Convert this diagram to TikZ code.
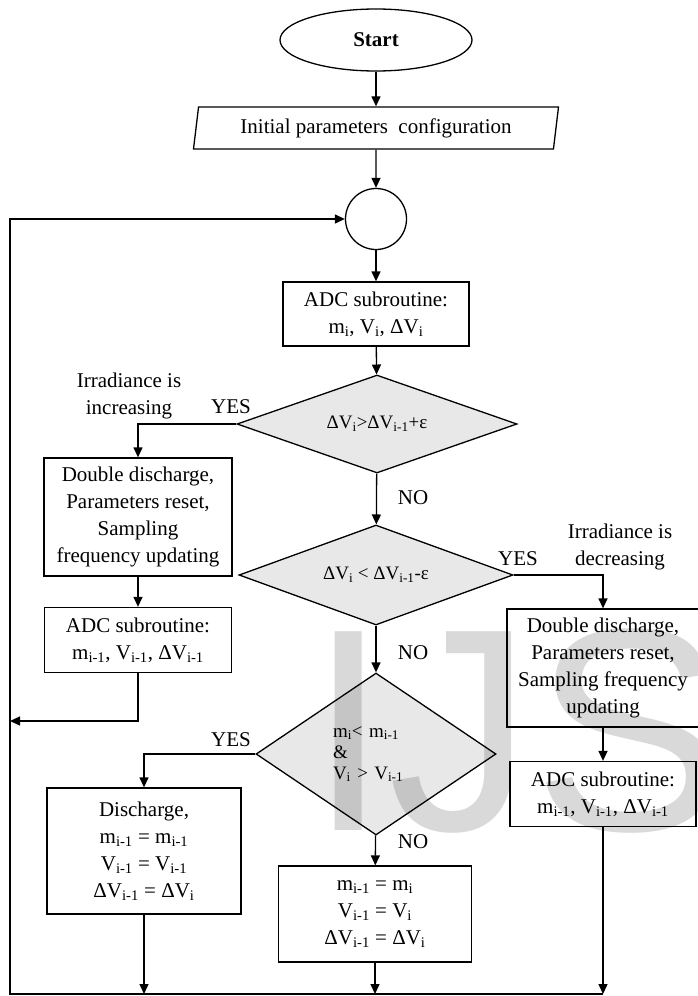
\documentclass[tikz,border=0pt]{standalone}
\usepackage{fontspec}
\setmainfont{Liberation Serif}
\newfontfamily\markfont{Liberation Sans}
\usetikzlibrary{arrows.meta,shapes.geometric}

\begin{document}
\begin{tikzpicture}[
    x=1pt,
    y=-1pt,
    font=\fontsize{21}{27}\selectfont,
    line width=1.3pt,
    terminal/.style={
        ellipse,
        draw,
        minimum width=192,
        minimum height=62,
        font=\fontsize{21}{27}\selectfont\bfseries
    },
    iobox/.style={
        trapezium,
        trapezium left angle=79,
        trapezium right angle=101,
        trapezium stretches body,
        draw,
        minimum width=365,
        minimum height=42
    },
    joint/.style={circle, draw, minimum size=61, inner sep=0pt},
    procbox/.style={
        rectangle,
        draw,
        align=center,
        inner sep=2pt
    },
    decision/.style={
        diamond,
        draw,
        fill=black!9,
        inner sep=0pt,
        font=\fontsize{19}{21}\selectfont
    },
    tag/.style={align=center, inner sep=0pt},
    flowarrow/.style={-{Triangle[length=10pt,width=9pt]}, line width=1.3pt}
]

\useasboundingbox (0,0) rectangle (697,996);

\node[terminal] (start) at (376,40) {Start};
\node[iobox] (init) at (376,128) {Initial parameters\ \ configuration};
\node[joint] (join) at (376,219) {};
\node[procbox, minimum width=186, minimum height=64] (adc0) at (376,314)
    {ADC subroutine:\\m\textsubscript{i}, V\textsubscript{i}, ΔV\textsubscript{i}};

\node[decision, minimum width=280, minimum height=98, aspect=2.86] (d1) at (377,424)
    {ΔV\textsubscript{i}>ΔV\textsubscript{i-1}+ε};
\node[decision, minimum width=274, minimum height=100, aspect=2.74] (d2) at (376,575)
    {ΔV\textsubscript{i} < ΔV\textsubscript{i-1}-ε};
\node[decision, minimum width=240, minimum height=162, aspect=1.48, align=left, text width=86] (d3) at (376,754)
    {m\textsubscript{i}< m\textsubscript{i-1}\\\&\\V\textsubscript{i} > V\textsubscript{i-1}};

\node[procbox, minimum width=188, minimum height=118] (inc1) at (138,517)
    {Double discharge,\\Parameters reset,\\Sampling\\frequency updating};
\node[procbox, minimum width=187, minimum height=65] (adc1) at (138,640)
    {ADC subroutine:\\m\textsubscript{i-1}, V\textsubscript{i-1}, ΔV\textsubscript{i-1}};

\node[procbox, minimum width=192, minimum height=118] (dec1) at (603,668)
    {Double discharge,\\Parameters reset,\\Sampling frequency\\updating};
\node[procbox, minimum width=186, minimum height=65] (adc2) at (603,794)
    {ADC subroutine:\\m\textsubscript{i-1}, V\textsubscript{i-1}, ΔV\textsubscript{i-1}};

\node[procbox, minimum width=194, minimum height=126] (dis) at (144,851)
    {Discharge,\\m\textsubscript{i-1} = m\textsubscript{i-1}\\V\textsubscript{i-1} = V\textsubscript{i-1}\\ΔV\textsubscript{i-1} = ΔV\textsubscript{i}};
\node[procbox, minimum width=193, minimum height=96] (upd) at (375,914)
    {m\textsubscript{i-1} = m\textsubscript{i}\\V\textsubscript{i-1} = V\textsubscript{i}\\ΔV\textsubscript{i-1} = ΔV\textsubscript{i}};

% branch labels
\node[tag] (irr1) at (129,396) {Irradiance is\\increasing};
\node[tag] (yes1) at (231,407) {YES};
\node[tag] (no1) at (413,498) {NO};
\node[tag] (yes2) at (518,559) {YES};
\node[tag] (irr2) at (620,547) {Irradiance is\\decreasing};
\node[tag] (no2) at (413,653) {NO};
\node[tag] (yes3) at (231,740) {YES};
\node[tag] (no3) at (413,842) {NO};

\coordinate (ret) at (10,721);
\coordinate (bl) at (10,994);
\coordinate (br) at (603,994);

\foreach \a/\b in {start/init,init/join,join/adc0,adc0/d1,d1/d2,d2/d3,d3/upd,inc1/adc1,dec1/adc2}
    \draw[flowarrow] (\a) -- (\b);

\draw[flowarrow] (d1.west) -| (inc1.north);
\draw[flowarrow] (d2.east) -| (dec1.north);
\draw[flowarrow] (d3.west) -| (dis.north);
\draw[flowarrow] (adc1.south) |- (ret);

\foreach \a in {dis,upd,adc2}
    \draw[flowarrow] (\a.south) -- (\a.south |- bl);
\draw[flowarrow] (br) -- (bl) -- (bl |- join) -- (join);

% watermark
\node[font=\markfont\fontsize{289}{289}\selectfont, opacity=0.15, anchor=base west, inner sep=0pt] (mark) at (308,830) {IJS};

\end{tikzpicture}
\end{document}
